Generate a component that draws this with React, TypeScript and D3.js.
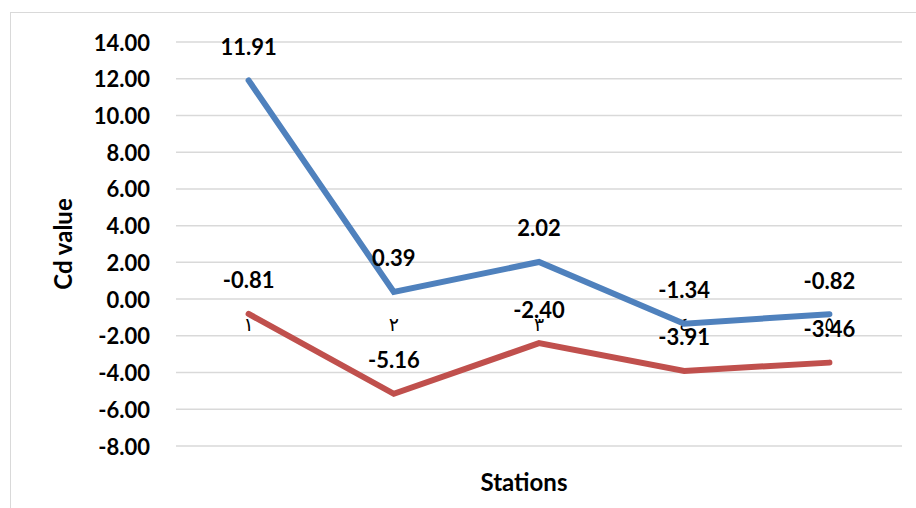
import React from "react";
import * as d3 from "d3";

const categories = ["١", "٢", "٣", "٤", "٥"];
const seriesA = [11.91, 0.39, 2.02, -1.34, -0.82];
const seriesB = [-0.81, -5.16, -2.4, -3.91, -3.46];
const yTicks = [14, 12, 10, 8, 6, 4, 2, 0, -2, -4, -6, -8];

const W = 916;
const H = 508;
const plot = { left: 176, right: 902, top: 42, bottom: 446 };
const FONT = "Lato, 'Open Sans', sans-serif";

export default function App() {
  const x = d3
    .scalePoint<string>()
    .domain(categories)
    .range([plot.left, plot.right])
    .padding(0.5);
  const y = d3.scaleLinear().domain([-8, 14]).range([plot.bottom, plot.top]);

  const line = d3
    .line<number>()
    .x((_, i) => x(categories[i]) as number)
    .y((d) => y(d));

  const series = [
    { values: seriesA, color: "#4F81BD" },
    { values: seriesB, color: "#C0504D" },
  ];

  return (
    <div style={{ position: "fixed", left: 0, top: 0, width: W, height: H, background: "#fff" }}>
      <svg width={W} height={H} style={{ display: "block" }}>
        <rect x={10.5} y={12.5} width={W + 20} height={H + 20} fill="#fff" stroke="#d9d9d9" strokeWidth={1} />
        {yTicks.map((t) => (
          <g key={t}>
            <line x1={plot.left} x2={plot.right} y1={y(t)} y2={y(t)} stroke="#d9d9d9" strokeWidth={1.5} />
            <text
              x={150}
              y={y(t)}
              textAnchor="end"
              dominantBaseline="central"
              fontFamily={FONT}
              fontWeight="bold"
              fontSize={22}
              fill="#000"
            >
              {t.toFixed(2)}
            </text>
          </g>
        ))}
        {categories.map((c) => (
          <text
            key={c}
            x={x(c)}
            y={y(0) + 32}
            textAnchor="middle"
            fontFamily="'DejaVu Sans', sans-serif"
            fontSize={19}
            fill="#000"
          >
            {c}
          </text>
        ))}
        {series.map((s, k) => (
          <path
            key={k}
            d={line(s.values) || ""}
            fill="none"
            stroke={s.color}
            strokeWidth={6}
            strokeLinejoin="miter"
            strokeLinecap="round"
          />
        ))}
        {series.map((s, k) =>
          s.values.map((v, i) => (
            <text
              key={`${k}-${i}`}
              x={x(categories[i])}
              y={y(v) - 34}
              textAnchor="middle"
              dominantBaseline="central"
              fontFamily={FONT}
              fontWeight="bold"
              fontSize={22}
              fill="#000"
            >
              {v.toFixed(2)}
            </text>
          ))
        )}
        <text
          transform={`translate(62,${(plot.top + plot.bottom) / 2}) rotate(-90)`}
          textAnchor="middle"
          dominantBaseline="central"
          fontFamily={FONT}
          fontWeight="bold"
          fontSize={24}
          fill="#000"
        >
          Cd value
        </text>
        <text
          x={524}
          y={481}
          textAnchor="middle"
          dominantBaseline="central"
          fontFamily={FONT}
          fontWeight="bold"
          fontSize={24}
          fill="#000"
        >
          Stations
        </text>
      </svg>
    </div>
  );
}
